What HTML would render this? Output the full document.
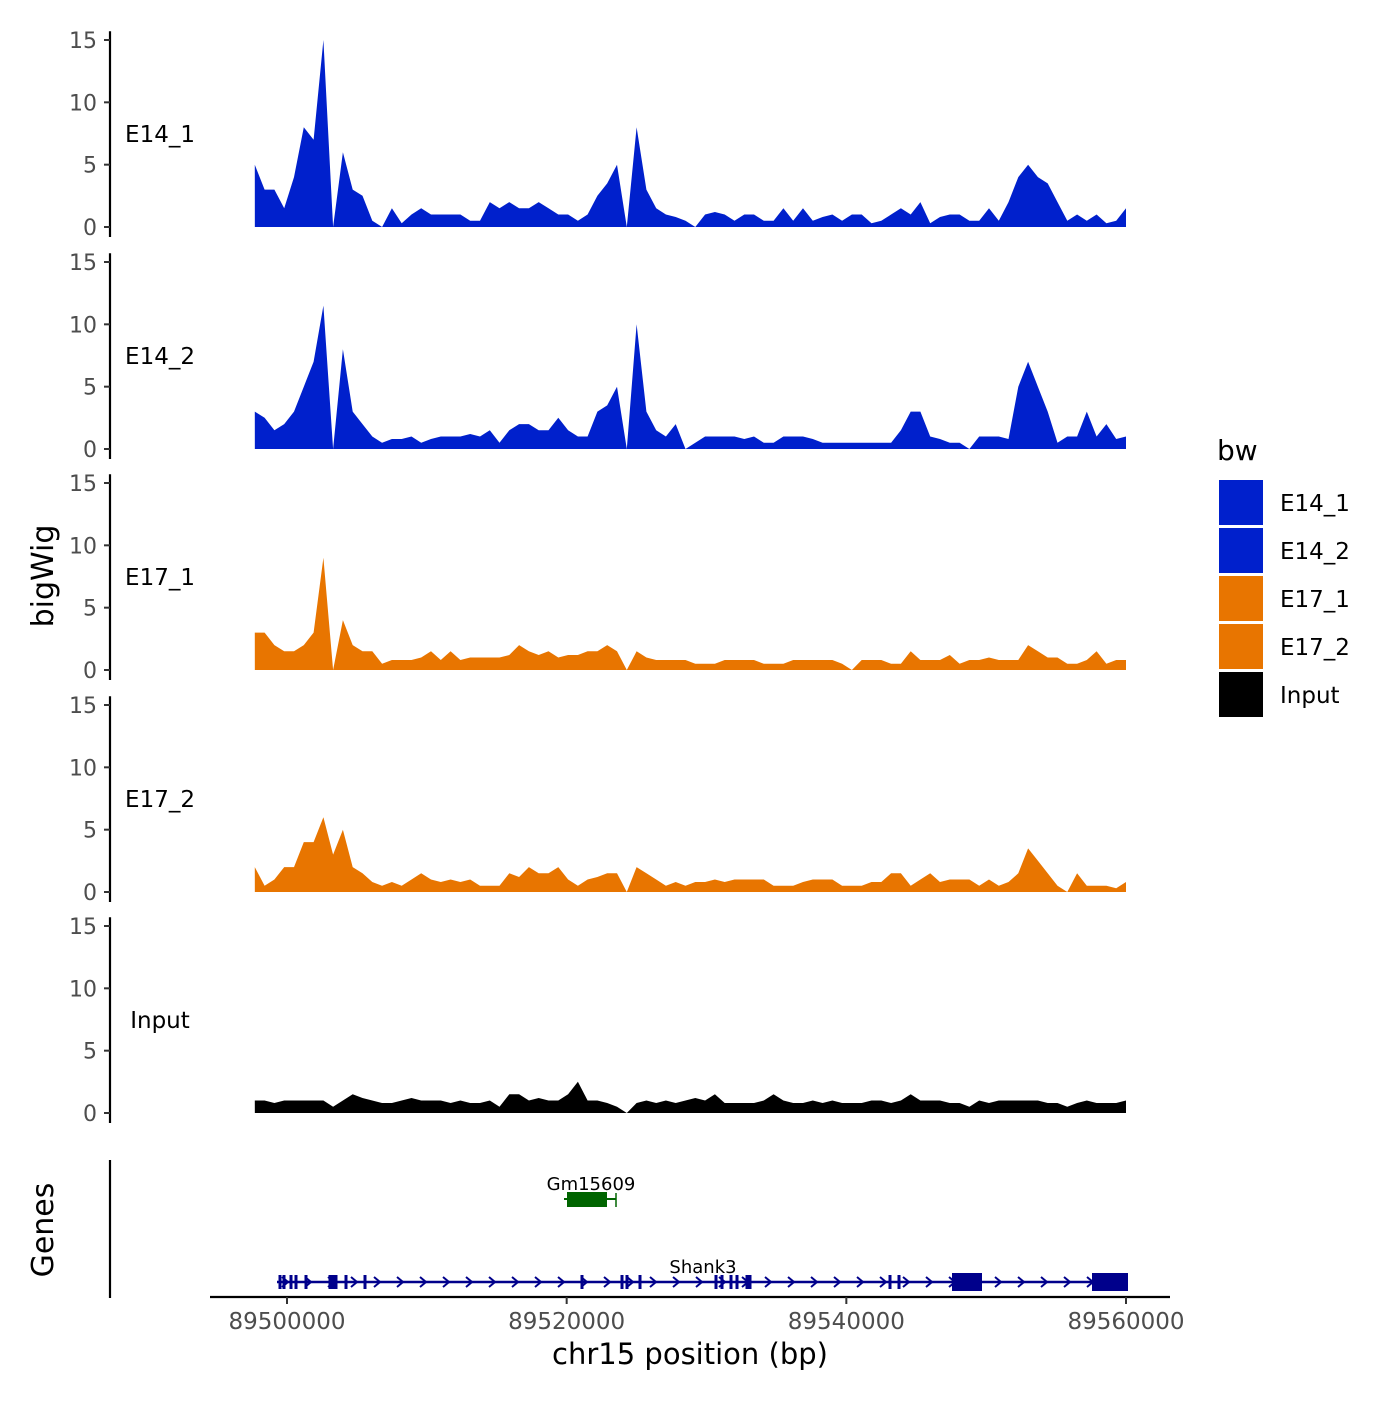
<!DOCTYPE html>
<html><head><meta charset="utf-8">
<style>
body{margin:0;background:#fff;}
svg text{font-family:"DejaVu Sans","Liberation Sans",sans-serif;}
</style></head>
<body>
<svg id="chart" width="1400" height="1400" viewBox="0 0 1400 1400" xmlns="http://www.w3.org/2000/svg">
<rect width="1400" height="1400" fill="#fff"/>
<g id="tracks"></g>
<g id="genes"></g>
<text x="53" y="576" font-size="30" text-anchor="middle" transform="rotate(-90 53 576)">bigWig</text>
<text x="53" y="1230" font-size="30" text-anchor="middle" transform="rotate(-90 53 1230)">Genes</text>
<text x="690" y="1364" font-size="29" text-anchor="middle">chr15 position (bp)</text>
<g id="legend">
<text x="1217" y="460" font-size="28">bw</text>
</g>
</svg>
<script>
const trackNames = ["E14_1","E14_2","E17_1","E17_2","Input"];
const trackColors = ["#0020CC","#0020CC","#E87500","#E87500","#000000"];
const yTicks = [0,5,10,15];
const xTickValues = [89500000,89520000,89540000,89560000];
const binStart = 89497700;
const binSize = 700;
const e14_1 = [5,3,3,1.5,4,8,7,15,0,6, 3,2.5,0.5,0,1.5,0.3,1,1.5,1,1, 1,1,0.5,0.5,2,1.5,2,1.5,1.5,2, 1.5,1,1,0.5,1,2.5,3.5,5,0,8, 3,1.5,1,0.8,0.5,0,1,1.2,1,0.5, 1,1,0.5,0.5,1.5,0.5,1.5,0.5,0.8,1, 0.5,1,1,0.3,0.5,1,1.5,1,2,0.3, 0.8,1,1,0.5,0.5,1.5,0.5,2,4,5, 4,3.5,2,0.5,1,0.5,1,0.3,0.5,1.5];
const e14_2 = [3,2.5,1.5,2,3,5,7,11.5,0,8, 3,2,1,0.5,0.8,0.8,1,0.5,0.8,1, 1,1,1.2,1,1.5,0.5,1.5,2,2,1.5, 1.5,2.5,1.5,1,1,3,3.5,5,0,10, 3,1.5,1,2,0,0.5,1,1,1,1, 0.8,1,0.5,0.5,1,1,1,0.8,0.5,0.5, 0.5,0.5,0.5,0.5,0.5,0.5,1.5,3,3,1, 0.8,0.5,0.5,0,1,1,1,0.8,5,7, 5,3,0.5,1,1,3,1,2,0.8,1];
const e17_1 = [3,3,2,1.5,1.5,2,3,9,0,4, 2,1.5,1.5,0.5,0.8,0.8,0.8,1,1.5,0.8, 1.5,0.8,1,1,1,1,1.2,2,1.5,1.2, 1.5,1,1.2,1.2,1.5,1.5,2,1.5,0,1.5, 1,0.8,0.8,0.8,0.8,0.5,0.5,0.5,0.8,0.8, 0.8,0.8,0.5,0.5,0.5,0.8,0.8,0.8,0.8,0.8, 0.5,0,0.8,0.8,0.8,0.5,0.5,1.5,0.8,0.8, 0.8,1.2,0.5,0.8,0.8,1,0.8,0.8,0.8,2, 1.5,1,1,0.5,0.5,0.8,1.5,0.5,0.8,0.8];
const e17_2 = [2,0.5,1,2,2,4,4,6,3,5, 2,1.5,0.8,0.5,0.8,0.5,1,1.5,1,0.8, 1,0.8,1,0.5,0.5,0.5,1.5,1.2,2,1.5, 1.5,2,1,0.5,1,1.2,1.5,1.5,0,2, 1.5,1,0.5,0.8,0.5,0.8,0.8,1,0.8,1, 1,1,1,0.5,0.5,0.5,0.8,1,1,1, 0.5,0.5,0.5,0.8,0.8,1.5,1.5,0.5,1,1.5, 0.8,1,1,1,0.5,1,0.5,0.8,1.5,3.5, 2.5,1.5,0.5,0,1.5,0.5,0.5,0.5,0.3,0.8];
const input = [1,1,0.8,1,1,1,1,1,0.5,1, 1.5,1.2,1,0.8,0.8,1,1.2,1,1,1, 0.8,1,0.8,0.8,1,0.5,1.5,1.5,1,1.2, 1,1,1.5,2.5,1,1,0.8,0.5,0,0.8, 1,0.8,1,0.8,1,1.2,1,1.5,0.8,0.8, 0.8,0.8,1,1.5,1,0.8,0.8,1,0.8,1, 0.8,0.8,0.8,1,1,0.8,1,1.5,1,1, 1,0.8,0.8,0.5,1,0.8,1,1,1,1, 1,0.8,0.8,0.5,0.8,1,0.8,0.8,0.8,1];
const trackValues = [e14_1,e14_2,e17_1,e17_2,input];
const legendLabels = ["E14_1","E14_2","E17_1","E17_2","Input"];

const NS="http://www.w3.org/2000/svg";
function mk(tag,attrs,parent){const e=document.createElementNS(NS,tag);for(const k in attrs)e.setAttribute(k,attrs[k]);parent.appendChild(e);return e;}
function xScale(bp){return 287+(bp-89500000)*(1126-287)/60000;}
const zeroY=[227,449,670,892,1113];
function yScale(v,p){return zeroY[p]-v*(187/15);}

const tracks=document.getElementById('tracks');
trackNames.forEach((name,p)=>{
  const g=mk('g',{},tracks);
  
  
  const vals=trackValues[p];
  let d='M'+xScale(binStart)+','+yScale(0,p);
  vals.forEach((v,i)=>{d+=' L'+xScale(binStart+i*binSize).toFixed(1)+','+yScale(v,p).toFixed(1);});
  d+=' L'+xScale(binStart+(vals.length-1)*binSize).toFixed(1)+','+yScale(0,p)+' Z';
  const area=mk('path',{d:d,fill:trackColors[p]},g);
  
  
  const ax=mk('line',{x1:110,x2:110,y1:yScale(15.7,p),y2:yScale(-0.8,p),stroke:'#000','stroke-width':2.2},g);
  
  
  yTicks.forEach(t=>{
    mk('line',{x1:104,x2:110,y1:yScale(t,p),y2:yScale(t,p),stroke:'#333','stroke-width':2},g);
    const tl=mk('text',{x:97,y:yScale(t,p)+8,'font-size':22,'text-anchor':'end',fill:'#4d4d4d'},g);
    tl.textContent=t;
    
    
  });
  const lab=mk('text',{x:160,y:zeroY[p]-85,'font-size':23,'text-anchor':'middle'},g);
  lab.textContent=name;
  
  
});

// genes
const genes=document.getElementById('genes');
mk('line',{x1:110,x2:110,y1:1160,y2:1298,stroke:'#000','stroke-width':2.2},genes);
const xa=mk('line',{x1:210,x2:1170,y1:1297,y2:1297,stroke:'#000','stroke-width':2.2},genes);


xTickValues.forEach(t=>{
  mk('line',{x1:xScale(t),x2:xScale(t),y1:1297,y2:1304,stroke:'#333','stroke-width':2},genes);
  const tl=mk('text',{x:xScale(t),y:1329,'font-size':23,'text-anchor':'middle',fill:'#4d4d4d'},genes);
  tl.textContent=t;
  
  
});
const navy='#00008B';
mk('line',{x1:277,x2:1127,y1:1282,y2:1282,stroke:navy,'stroke-width':2.5},genes);
for(let x=285;x<1125;x+=23){mk('path',{d:`M${x-3},${1277} L${x+3},${1282} L${x-3},${1287}`,fill:'none',stroke:navy,'stroke-width':2},genes);}
const exons=[280,284,291,296,306,330,333,336,346,365,582,622,627,640,716,722,731,737,747,750,890,899];
exons.forEach(x=>mk('rect',{x:x-1.5,y:1275,width:3,height:14,fill:navy},genes));
mk('rect',{x:952,y:1273,width:30,height:18,fill:navy},genes);
mk('rect',{x:1092,y:1273,width:36,height:18,fill:navy},genes);
const sl=mk('text',{x:703,y:1273,'font-size':18,'text-anchor':'middle'},genes);sl.textContent='Shank3';


const green='#006400';
mk('line',{x1:564,x2:616,y1:1199,y2:1199,stroke:green,'stroke-width':2},genes);
mk('line',{x1:616,x2:616,y1:1193,y2:1207,stroke:green,'stroke-width':1.5},genes);
mk('rect',{x:567,y:1192,width:40,height:15,fill:green},genes);
const gl=mk('text',{x:591,y:1190,'font-size':18,'text-anchor':'middle'},genes);gl.textContent='Gm15609';



// legend
const leg=document.getElementById('legend');
legendLabels.forEach((l,i)=>{
  const y=480+i*48;
  const r=mk('rect',{x:1219,y:y,width:44,height:45,fill:trackColors[i]},leg);
  
  
  const t=mk('text',{x:1280,y:y+31,'font-size':23},leg);t.textContent=l;
  
  
});
</script>
</body></html>
